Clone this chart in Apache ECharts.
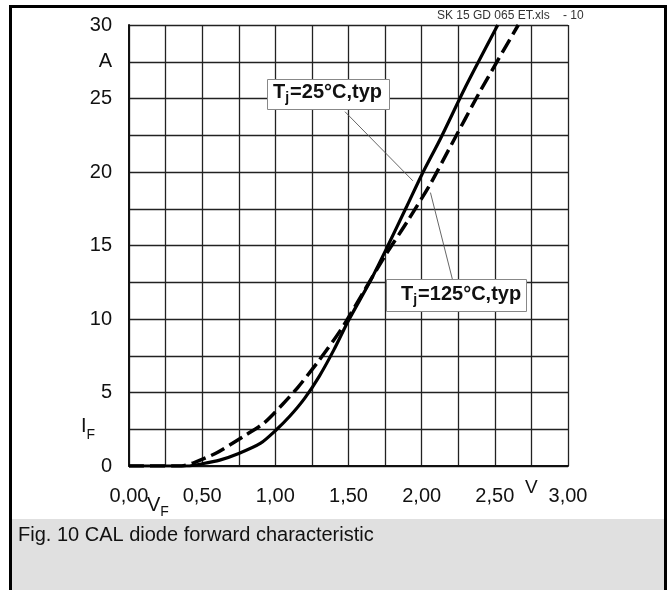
<!DOCTYPE html>
<html>
<head>
<meta charset="utf-8">
<script src="https://cdn.jsdelivr.net/npm/echarts@6/dist/echarts.min.js"></script>
<style>
html, body { margin: 0; padding: 0; background: #fff; }
#chart { width: 670px; height: 590px; }
</style>
</head>
<body>
<div id="chart"></div>
<script>
// forward voltage (V) / forward current (A)
const vf25 = [0, 0.40, 0.50, 0.62, 0.75, 0.90, 1.00, 1.10, 1.20, 1.30, 1.40, 1.50, 1.65, 1.76, 1.90, 2.00, 2.13, 2.30, 2.52];
const if25 = [0, 0, 0.15, 0.4, 0.85, 1.55, 2.4, 3.4, 4.6, 6.1, 7.9, 9.9, 12.6, 14.8, 17.7, 19.8, 22.3, 25.8, 30];

const vf125 = [0, 0.36, 0.45, 0.60, 0.78, 0.92, 1.05, 1.15, 1.30, 1.45, 1.60, 1.75, 1.90, 2.06, 2.20, 2.40, 2.66];
const if125 = [0, 0, 0.25, 0.9, 2.0, 2.9, 4.2, 5.3, 7.2, 9.3, 11.8, 14.3, 16.6, 19.2, 21.8, 25.5, 30];

const xLabeled = [0, 0.5, 1, 1.5, 2, 2.5, 3];
const yLabeled = [0, 5, 10, 15, 20, 25, 30];

const font = '"Liberation Sans", Arial, Helvetica, sans-serif';
const ink = '#111';

let pairs = (xs, ys) => xs.map((x, i) => [x, ys[i]]);

let myChart = echarts.init(document.getElementById('chart'));

myChart.setOption({
    animation: false,
    backgroundColor: '#fff',
    grid: {
        left: 129,
        top: 25,
        right: 102,
        bottom: 124,
        containLabel: false,
        outerBoundsMode: 'none'
    },
    xAxis: {
        type: 'value',
        min: 0,
        max: 3,
        interval: 0.25,
        axisLine: { show: true, onZero: false, lineStyle: { color: ink, width: 2 } },
        axisTick: { show: false },
        splitLine: { show: true, lineStyle: { color: '#222', width: 1.3 } },
        axisLabel: {
            margin: 12,
            showMinLabel: true,
            showMaxLabel: true,
            hideOverlap: false,
            color: ink,
            fontFamily: font,
            fontSize: 20,
            formatter: v => {
                if (xLabeled.some(t => Math.abs(t - v) < 1e-6)) return '{n|' + v.toFixed(2).replace('.', ',') + '}';
                if (Math.abs(v - 2.75) < 1e-6) return '{u|V}';
                return '';
            },
            rich: {
                n: { fontFamily: font, fontSize: 20, color: ink, verticalAlign: 'top', padding: [8, 0, 0, 0] },
                u: { fontFamily: font, fontSize: 19, color: ink, verticalAlign: 'top', padding: [0, 0, 0, 0] }
            }
        }
    },
    yAxis: {
        type: 'value',
        min: 0,
        max: 30,
        interval: 2.5,
        axisLine: { show: true, onZero: false, lineStyle: { color: ink, width: 2 } },
        axisTick: { show: false },
        splitLine: { show: true, lineStyle: { color: '#222', width: 1.3 } },
        axisLabel: {
            margin: 17,
            showMinLabel: true,
            showMaxLabel: true,
            hideOverlap: false,
            color: ink,
            fontFamily: font,
            fontSize: 20,
            formatter: v => {
                if (yLabeled.some(t => Math.abs(t - v) < 1e-6)) return String(v);
                if (Math.abs(v - 27.5) < 1e-6) return 'A';
                if (Math.abs(v - 2.5) < 1e-6) return '{i|I}{f|F}';
                return '';
            },
            rich: {
                i: { fontFamily: font, fontSize: 20, color: ink, verticalAlign: 'top', padding: [0, 0, 0, 0] },
                f: { fontFamily: font, fontSize: 14, color: ink, verticalAlign: 'top', padding: [11, 17, 0, 0] }
            }
        }
    },
    series: [
        {
            name: 'Tj=25°C',
            type: 'line',
            data: pairs(vf25, if25),
            symbol: 'none',
            smooth: 0.25,
            clip: true,
            z: 3,
            lineStyle: { color: '#000', width: 3.2 },
            markLine: {
                silent: true,
                symbol: ['none', 'none'],
                label: { show: false },
                lineStyle: { color: '#555', width: 0.9, type: 'solid' },
                data: [
                    [{ coord: [1.476, 24.1] }, { coord: [1.94, 19.4] }],
                    [{ coord: [2.06, 18.6] }, { coord: [2.21, 12.7] }]
                ]
            }
        },
        {
            name: 'Tj=125°C',
            type: 'line',
            data: pairs(vf125, if125),
            symbol: 'none',
            smooth: 0.25,
            clip: true,
            z: 3,
            lineStyle: { color: '#000', width: 3.5, type: [15, 6] }
        }
    ],
    graphic: [
        // frame
        { type: 'rect', z: 50, shape: { x: 10.5, y: 6.5, width: 655, height: 600 }, style: { fill: 'none', stroke: '#000', lineWidth: 3 } },
        // caption panel
        { type: 'rect', z: 40, shape: { x: 12, y: 519, width: 653, height: 80 }, style: { fill: '#e0e0e0' } },
        { type: 'text', z: 41, left: 18, top: 525, style: { text: 'Fig. 10 CAL diode forward characteristic', font: '20px ' + font, fill: '#111' } },
        // x axis quantity name (VF), sits just right of the 0,00 label
        {
            type: 'text', z: 30, left: 147, top: 495,
            style: {
                text: '{v|V}{f|F}',
                rich: {
                    v: { fontFamily: font, fontSize: 20, fill: ink, verticalAlign: 'top' },
                    f: { fontFamily: font, fontSize: 14, fill: ink, verticalAlign: 'top', padding: [10, 0, 0, 0] }
                }
            }
        },
        // file tag
        { type: 'text', z: 41, left: 437, top: 10, style: { text: 'SK 15 GD 065 ET.xls', font: '12px ' + font, fill: '#333' } },
        { type: 'text', z: 41, left: 563, top: 10, style: { text: '- 10', font: '12px ' + font, fill: '#333' } },
        // annotation boxes
        { type: 'rect', z: 60, shape: { x: 267.5, y: 79.5, width: 122, height: 30 }, style: { fill: '#fff', stroke: '#888', lineWidth: 1 } },
        {
            type: 'text', z: 61, left: 273, top: 82,
            style: {
                text: '{t|T}{s|j}{t|=25°C,typ}',
                rich: {
                    t: { fontFamily: font, fontSize: 20, fontWeight: 'bold', fill: '#111', verticalAlign: 'top' },
                    s: { fontFamily: font, fontSize: 14, fontWeight: 'bold', fill: '#111', verticalAlign: 'top', padding: [9, 1, 0, 0] }
                }
            }
        },
        { type: 'rect', z: 60, shape: { x: 386.5, y: 279.5, width: 140, height: 32 }, style: { fill: '#fff', stroke: '#888', lineWidth: 1 } },
        {
            type: 'text', z: 61, left: 401, top: 284,
            style: {
                text: '{t|T}{s|j}{t|=125°C,typ}',
                rich: {
                    t: { fontFamily: font, fontSize: 20, fontWeight: 'bold', fill: '#111', verticalAlign: 'top' },
                    s: { fontFamily: font, fontSize: 14, fontWeight: 'bold', fill: '#111', verticalAlign: 'top', padding: [9, 1, 0, 0] }
                }
            }
        }
    ]
});
</script>
</body>
</html>
